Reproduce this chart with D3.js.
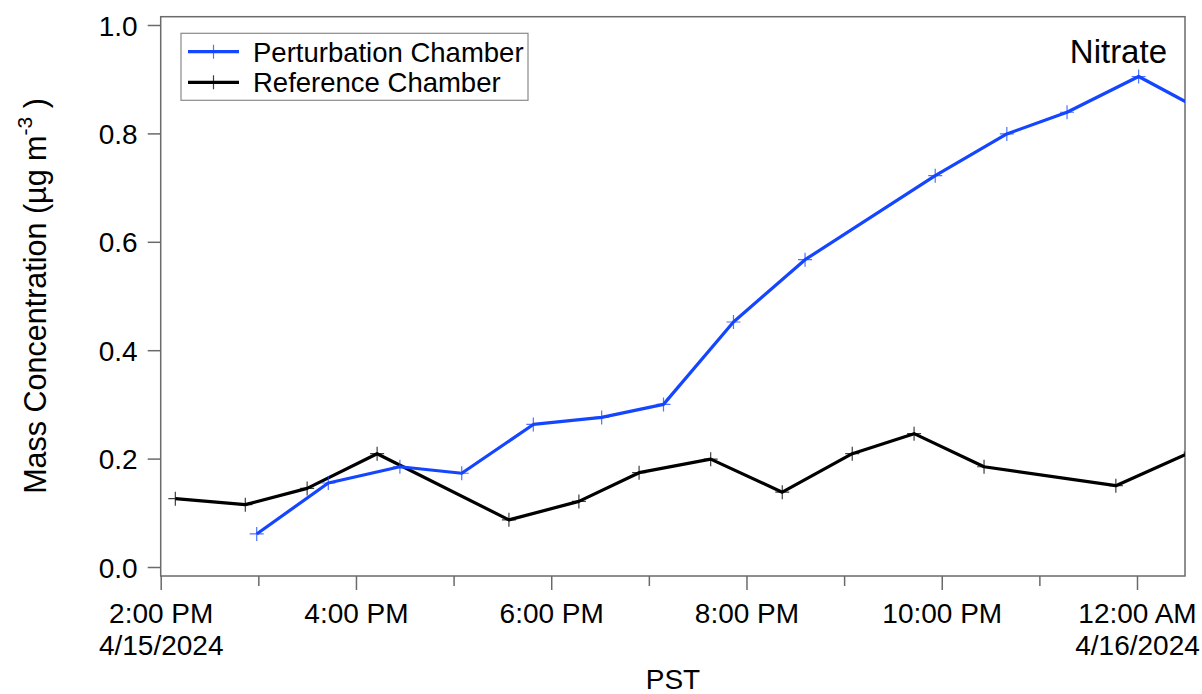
<!DOCTYPE html>
<html><head><meta charset="utf-8">
<script src="https://cdn.jsdelivr.net/npm/d3@7"></script>
<style>
body{margin:0;background:#fff}
svg{display:block}
text{font-family:"Liberation Sans",Arial,sans-serif;fill:#000}
</style>
</head><body>
<svg id="c" width="1202" height="694"></svg>
<script>
// ---- data ----
const refTimes = ["2024-04-15T14:09","2024-04-15T14:52","2024-04-15T15:30","2024-04-15T16:13","2024-04-15T17:34","2024-04-15T18:17","2024-04-15T18:54","2024-04-15T19:38","2024-04-15T20:22","2024-04-15T21:05","2024-04-15T21:43","2024-04-15T22:26","2024-04-15T23:47","2024-04-16T00:33"];
const refValues = [0.126,0.115,0.145,0.209,0.087,0.121,0.174,0.199,0.138,0.209,0.246,0.185,0.150,0.212];
const pertTimes = ["2024-04-15T14:59","2024-04-15T15:43","2024-04-15T16:27","2024-04-15T17:05","2024-04-15T17:49","2024-04-15T18:31","2024-04-15T19:09","2024-04-15T19:52","2024-04-15T20:36","2024-04-15T21:56","2024-04-15T22:40","2024-04-15T23:17","2024-04-16T00:01","2024-04-16T00:45"];
const pertValues = [0.061,0.155,0.185,0.173,0.263,0.276,0.300,0.452,0.567,0.722,0.799,0.839,0.905,0.834];
const yTicks = [0.0,0.2,0.4,0.6,0.8,1.0];
const xMajorTicks = ["2024-04-15T14:00","2024-04-15T16:00","2024-04-15T18:00","2024-04-15T20:00","2024-04-15T22:00","2024-04-16T00:00"];
const xTickLabels = [["2:00 PM","4/15/2024"],["4:00 PM"],["6:00 PM"],["8:00 PM"],["10:00 PM"],["12:00 AM","4/16/2024"]];
const xMinorTicks = ["2024-04-15T15:00","2024-04-15T17:00","2024-04-15T19:00","2024-04-15T21:00","2024-04-15T23:00"];
const seriesNames = ["Perturbation Chamber","Reference Chamber"];
const seriesColors = ["#1446ff","#000000"];

// ---- layout ----
const parse = d3.timeParse("%Y-%m-%dT%H:%M");
const L = 160.7, R = 1185, T = 16.7, B = 576;
const svg = d3.select("#c");
const x = d3.scaleTime()
  .domain([parse("2024-04-15T14:00"), new Date(2024,3,16,0,29,30)])
  .range([L, R]);
const y = d3.scaleLinear().domain([-0.0166, 1.0153]).range([B, T]);
const axisColor = "#6a6a6a";

svg.append("defs").append("clipPath").attr("id","clip")
  .append("rect").attr("x",L).attr("y",T).attr("width",R-L).attr("height",B-T);

// y axis
const yAxis = svg.append("g").attr("transform",`translate(${L},0)`)
  .call(d3.axisLeft(y).tickValues(yTicks).tickFormat(d3.format(".1f")).tickSize(13).tickPadding(10));
yAxis.select(".domain").remove();
yAxis.selectAll("line").attr("stroke",axisColor).attr("stroke-width",1.5);
yAxis.selectAll("text").style("font-size","28px").attr("font-family",null).attr("dy","0.36em");

// x axis major
const majors = xMajorTicks.map(parse);
const xAxis = svg.append("g").attr("transform",`translate(0,${B})`)
  .call(d3.axisBottom(x).tickValues(majors).tickSize(14).tickFormat(""));
xAxis.select(".domain").remove();
xAxis.selectAll("line").attr("stroke",axisColor).attr("stroke-width",1.5);
xAxis.selectAll(".tick").each(function(d,i){
  const t = d3.select(this).append("text").attr("text-anchor","middle").style("font-size","28px");
  xTickLabels[i].forEach((s,j)=>{
    t.append("tspan").attr("x",0).attr("y",47 + j*32).text(s);
  });
});
// minor
const xMinor = svg.append("g").attr("transform",`translate(0,${B})`)
  .call(d3.axisBottom(x).tickValues(xMinorTicks.map(parse)).tickSize(10).tickFormat(""));
xMinor.select(".domain").remove();
xMinor.selectAll("line").attr("stroke",axisColor).attr("stroke-width",1.5);

// frame
svg.append("rect").attr("x",L).attr("y",T).attr("width",R-L).attr("height",B-T)
  .attr("fill","none").attr("stroke",axisColor).attr("stroke-width",1.5);

// series
const plot = svg.append("g").attr("clip-path","url(#clip)");
const line = d3.line().x(d=>x(d.t)).y(d=>y(d.v));
const series = [
  {name:seriesNames[0], color:seriesColors[0], data:pertTimes.map((t,i)=>({t:parse(t),v:pertValues[i]}))},
  {name:seriesNames[1], color:seriesColors[1], data:refTimes.map((t,i)=>({t:parse(t),v:refValues[i]}))}
];
const plusPath = "M-7,0H7M0,-7V7";
[series[1], series[0]].forEach(s=>{
  plot.append("path").datum(s.data).attr("d",line).attr("fill","none")
    .attr("stroke",s.color).attr("stroke-width",3.2).attr("stroke-linejoin","round");
  plot.selectAll(null).data(s.data).enter().append("path")
    .attr("transform",d=>`translate(${x(d.t)},${y(d.v)})`)
    .attr("d",plusPath).attr("stroke",s.color).attr("stroke-width",1.2).attr("opacity",0.75);
});

// legend
const lg = svg.append("g");
lg.append("rect").attr("x",181).attr("y",33.3).attr("width",347).attr("height",67)
  .attr("fill","#fff").attr("stroke","#8a8a8a").attr("stroke-width",1.2);
series.forEach((s,i)=>{
  const yy = 51.7 + i*30.6;
  lg.append("line").attr("x1",188).attr("x2",239).attr("y1",yy).attr("y2",yy)
    .attr("stroke",s.color).attr("stroke-width",3.2);
  lg.append("path").attr("transform",`translate(213.5,${yy})`).attr("d",plusPath)
    .attr("stroke",s.color).attr("stroke-width",1.2).attr("opacity",0.75);
  lg.append("text").attr("x",253).attr("y",yy+10).style("font-size","27.5px").text(s.name);
});

// title
svg.append("text").attr("x",1167).attr("y",63).attr("text-anchor","end")
  .style("font-size","33px").text("Nitrate");

// axis titles
const yl = svg.append("text").attr("transform","translate(46,296) rotate(-90)")
  .attr("text-anchor","middle").style("font-size","30.5px");
yl.append("tspan").text("Mass Concentration (µg m");
yl.append("tspan").attr("dy",-14).style("font-size","21px").text("-3");
yl.append("tspan").attr("dy",14).text(" )");

svg.append("text").attr("x",673).attr("y",689).attr("text-anchor","middle")
  .style("font-size","28px").text("PST");
</script>
</body></html>
